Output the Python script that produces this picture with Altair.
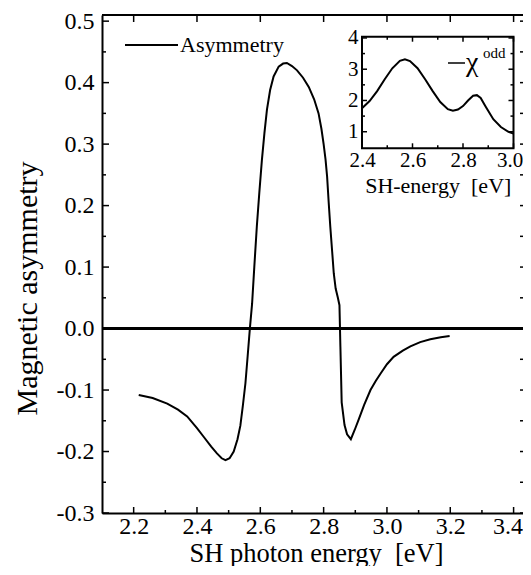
import altair as alt
import pandas as pd

# ---------------- data ----------------
energy = [2.216, 2.26, 2.306, 2.34, 2.369, 2.40, 2.421, 2.445, 2.463, 2.478, 2.490,
          2.503, 2.516, 2.528, 2.537, 2.545, 2.553, 2.560, 2.567, 2.574, 2.581,
          2.589, 2.597, 2.605, 2.613, 2.621, 2.631, 2.642, 2.658, 2.672, 2.684,
          2.700, 2.716, 2.735, 2.753, 2.770, 2.784, 2.793, 2.800, 2.806, 2.811,
          2.816, 2.821, 2.827, 2.832, 2.838, 2.845, 2.850, 2.853, 2.857, 2.866,
          2.874, 2.886, 2.898, 2.910, 2.928, 2.948, 2.965, 2.980, 3.000, 3.021,
          3.050, 3.074, 3.105, 3.137, 3.170, 3.198]
asymmetry = [-0.108, -0.113, -0.122, -0.132, -0.143, -0.162, -0.176, -0.192, -0.203, -0.211, -0.214,
             -0.211, -0.200, -0.180, -0.158, -0.125, -0.089, -0.045, 0.000, 0.040, 0.100,
             0.166, 0.222, 0.274, 0.318, 0.356, 0.388, 0.410, 0.426, 0.431, 0.432,
             0.427, 0.420, 0.408, 0.393, 0.373, 0.350, 0.325, 0.300, 0.275, 0.247,
             0.205, 0.166, 0.125, 0.090, 0.065, 0.050, 0.038, -0.030, -0.120, -0.157,
             -0.172, -0.180, -0.165, -0.149, -0.124, -0.100, -0.085, -0.073, -0.058, -0.046,
             -0.036, -0.029, -0.022, -0.0175, -0.014, -0.012]

inset_energy = [2.40, 2.43, 2.46, 2.49, 2.52, 2.55, 2.57, 2.59, 2.62, 2.65, 2.68, 2.71,
                2.74, 2.76, 2.78, 2.80, 2.82, 2.84, 2.855, 2.87, 2.89, 2.92, 2.95, 2.98, 3.00]
chi_odd = [1.75, 1.98, 2.30, 2.68, 3.03, 3.27, 3.32, 3.26, 3.03, 2.68, 2.30, 1.95,
           1.72, 1.67, 1.71, 1.82, 2.00, 2.15, 2.17, 2.08, 1.80, 1.40, 1.15, 1.00, 0.94]

x_major = [2.2, 2.4, 2.6, 2.8, 3.0, 3.2, 3.4]
x_minor = [2.3, 2.5, 2.7, 2.9, 3.1, 3.3]
y_major = [-0.3, -0.2, -0.1, 0.0, 0.1, 0.2, 0.3, 0.4, 0.5]
y_minor = [-0.25, -0.15, -0.05, 0.05, 0.15, 0.25, 0.35, 0.45]
x_domain = [2.1, 3.4297]
y_domain = [-0.3, 0.51]

inset_x_major = [2.4, 2.6, 2.8, 3.0]
inset_x_minor = [2.5, 2.7, 2.9]
inset_y_major = [1, 2, 3, 4]
inset_y_minor = [1.5, 2.5, 3.5]
inset_x_domain = [2.4, 3.0]
inset_y_domain = [0.47, 4.04]

# ---------------- layout ----------------
W, H = 421, 498
FONT = "Liberation Serif"
IX0, IX1 = 260, 411.5      # inset horizontal range (px inside plot)
IYB, IYT = 133.3, 21.7     # inset vertical range (bottom, top)

def xs():
    return alt.Scale(domain=x_domain, nice=False, zero=False)

def ys():
    return alt.Scale(domain=y_domain, nice=False, zero=False)

def ixs():
    return alt.Scale(domain=inset_x_domain, range=[IX0, IX1], nice=False, zero=False)

def iys():
    return alt.Scale(domain=inset_y_domain, range=[IYB, IYT], nice=False, zero=False)

fix_minus = "replace(format(datum.value, '.1f'), '\u2212', '-')"
common = dict(grid=False, ticks=False, tickSize=0, labelFlush=False, labelOverlap=False,
              labelFont=FONT, labelColor="black", titleFont=FONT, titleFontWeight="normal",
              titleColor="black")

main_df = pd.DataFrame({"E": energy, "A": asymmetry})
line = alt.Chart(main_df).mark_line(color="black", strokeWidth=2).encode(
    x=alt.X("E:Q", scale=xs(), axis=alt.Axis(
        orient="bottom", title="SH photon energy\u00a0 [eV]", values=x_major, labelExpr=fix_minus,
        domainColor="black", domainWidth=2, labelFontSize=24, labelBaseline="alphabetic",
        labelPadding=20,
        labelOffset={"condition": {"test": "datum.value > 3.35", "value": -6}, "value": 0},
        titleFontSize=26.5, titleBaseline="alphabetic", titleY=48, titleX=214,
        titleAlign="center", **common)),
    y=alt.Y("A:Q", scale=ys(), axis=alt.Axis(
        orient="left", title="Magnetic asymmetry", values=y_major, labelExpr=fix_minus,
        domainColor="black", domainWidth=2, labelFontSize=24, labelPadding=8,
        titleFontSize=30, titleX=-75, titleY=273, titleAlign="center", titleBaseline="middle",
        **common)),
)

zero = alt.Chart(pd.DataFrame({"A": [0.0]})).mark_rule(color="black", strokeWidth=3).encode(
    y=alt.Y("A:Q", scale=ys(), axis=None))

xmaj = pd.DataFrame({"E": x_major})
xmin = pd.DataFrame({"E": x_minor})
ymaj = pd.DataFrame({"A": y_major})
ymin = pd.DataFrame({"A": y_minor})
yall = pd.DataFrame({"A": y_major + y_minor})

def xtick(df, y0, y1, sw=1.5):
    return alt.Chart(df).mark_rule(color="black", strokeWidth=sw).encode(
        x=alt.X("E:Q", scale=xs(), axis=None), y=alt.value(y0), y2=alt.value(y1))

def ytick(df, x0, x1, sw=1.5):
    return alt.Chart(df).mark_rule(color="black", strokeWidth=sw).encode(
        y=alt.Y("A:Q", scale=ys(), axis=None), x=alt.value(x0), x2=alt.value(x1))

top_line = alt.Chart(pd.DataFrame({"k": [0]})).mark_rule(color="black", strokeWidth=2).encode(
    x=alt.value(0), x2=alt.value(W), y=alt.value(0))

legend_df = pd.DataFrame({"t": ["Asymmetry"]})
leg_line = alt.Chart(legend_df).mark_rule(color="black", strokeWidth=2).encode(
    x=alt.value(23), x2=alt.value(76), y=alt.value(30))
leg_text = alt.Chart(legend_df).mark_text(align="left", baseline="middle", font=FONT,
                                          fontSize=22, color="black").encode(
    text="t:N", x=alt.value(78), y=alt.value(30))

# ---------------- inset ----------------
inset_df = pd.DataFrame({"E2": inset_energy, "C": chi_odd})
frame_df = pd.DataFrame({"x0": [inset_x_domain[0]], "x1": [inset_x_domain[1]],
                         "y0": [inset_y_domain[0]], "y1": [inset_y_domain[1]]})
frame = alt.Chart(frame_df).mark_rect(fill="white", stroke="black", strokeWidth=2).encode(
    x=alt.X("x0:Q", scale=ixs(), axis=None), x2="x1:Q",
    y=alt.Y("y0:Q", scale=iys(), axis=None), y2="y1:Q")

iline = alt.Chart(inset_df).mark_line(color="black", strokeWidth=2).encode(
    x=alt.X("E2:Q", scale=ixs(), axis=alt.Axis(
        orient="bottom", offset=-(H - IYB), title="SH-energy\u00a0 [eV]", values=inset_x_major,
        format=".1f", domain=False, labelFontSize=21, labelBaseline="alphabetic",
        labelPadding=18,
        labelOffset={"condition": {"test": "datum.value > 2.95", "value": -4}, "value": 0},
        titleFontSize=22, titleBaseline="alphabetic", titleY=44, **common)),
    y=alt.Y("C:Q", scale=iys(), axis=alt.Axis(
        orient="left", offset=-IX0, title=None, values=inset_y_major, format="d",
        domain=False, labelFontSize=21, labelPadding=4, **common)),
)

ixmaj = pd.DataFrame({"E2": inset_x_major})
ixmin = pd.DataFrame({"E2": inset_x_minor})
iymaj = pd.DataFrame({"C": inset_y_major})
iymin = pd.DataFrame({"C": inset_y_minor})

def ixtick(df, y0, y1):
    return alt.Chart(df).mark_rule(color="black", strokeWidth=1.5).encode(
        x=alt.X("E2:Q", scale=ixs(), axis=None), y=alt.value(y0), y2=alt.value(y1))

def iytick(df, x0, x1):
    return alt.Chart(df).mark_rule(color="black", strokeWidth=1.5).encode(
        y=alt.Y("C:Q", scale=iys(), axis=None), x=alt.value(x0), x2=alt.value(x1))

ileg_df = pd.DataFrame({"t": ["\u03c7"], "s": ["odd"]})
ileg_line = alt.Chart(ileg_df).mark_rule(color="black", strokeWidth=1.5).encode(
    x=alt.value(346), x2=alt.value(363), y=alt.value(48))
ileg_chi = alt.Chart(ileg_df).mark_text(align="left", baseline="alphabetic", font=FONT,
                                        fontSize=28, color="black").encode(
    text="t:N", x=alt.value(364), y=alt.value(56))
ileg_sup = alt.Chart(ileg_df).mark_text(align="left", baseline="alphabetic", font=FONT,
                                        fontSize=15, color="black").encode(
    text="s:N", x=alt.value(381), y=alt.value(43))

chart = alt.layer(
    line, zero, top_line,
    xtick(xmaj, H, H - 6), xtick(xmin, H, H - 3),
    xtick(xmaj, 0, 7),
    ytick(ymaj, 0, 7), ytick(ymin, 0, 4),
    ytick(yall, W - 3, W),
    leg_line, leg_text,
    frame, iline,
    ixtick(ixmaj, IYB, IYB - 5), ixtick(ixmin, IYB, IYB - 3),
    ixtick(ixmaj, IYT, IYT + 5), ixtick(ixmin, IYT, IYT + 3),
    iytick(iymaj, IX0, IX0 + 5), iytick(iymin, IX0, IX0 + 3),
    iytick(iymaj, IX1, IX1 - 5), iytick(iymin, IX1, IX1 - 3),
    ileg_line, ileg_chi, ileg_sup,
).resolve_scale(
    x="independent", y="independent"
).properties(
    width=W, height=H,
    autosize=alt.AutoSizeParams(type="none"),
    padding={"left": 94, "top": 7, "right": 0, "bottom": 53},
    background="white",
).configure_view(stroke=None)

chart.save("out.html", embed_options={"renderer": "svg", "actions": False})
